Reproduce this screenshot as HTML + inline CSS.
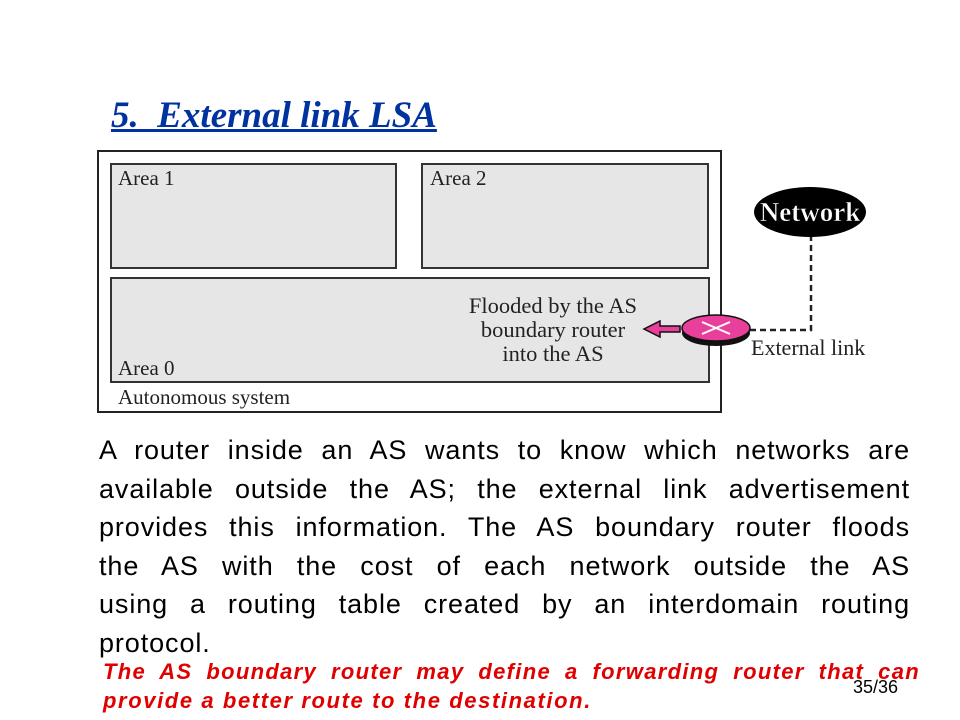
<!DOCTYPE html>
<html><head><style>
body{margin:0;width:960px;height:720px;background:#fff;position:relative;overflow:hidden;font-family:"Liberation Sans",sans-serif}
.a{position:absolute}
.box{position:absolute;border:2px solid #333;background:#e6e6e6;box-sizing:border-box}
.s{font-family:"Liberation Serif",serif;font-size:21px;color:#222;position:absolute;white-space:nowrap}
.j{text-align:justify;text-align-last:justify;height:38.5px;white-space:nowrap;letter-spacing:0.9px}
</style></head><body>
<div class="a" style="left:111px;top:94px;font-family:'Liberation Serif',serif;font-size:37px;font-weight:bold;font-style:italic;color:#0033a0;text-decoration:underline;text-decoration-thickness:3px">5.&nbsp; External link LSA</div>
<div class="a" style="left:97px;top:150px;width:625px;height:263px;border:2px solid #222;box-sizing:border-box"></div>
<div class="box" style="left:110px;top:163px;width:287px;height:106px"></div>
<div class="box" style="left:421px;top:163px;width:288px;height:106px"></div>
<div class="box" style="left:110px;top:277px;width:600px;height:106px"></div>
<div class="s" style="left:118px;top:166px">Area 1</div>
<div class="s" style="left:430px;top:166px">Area 2</div>
<div class="s" style="left:118px;top:356px">Area 0</div>
<div class="s" style="left:118px;top:385px">Autonomous system</div>
<div class="s" style="left:453px;top:294px;width:200px;text-align:center;line-height:24px;font-size:22.5px">Flooded by the AS<br>boundary router<br>into the AS</div>
<div class="s" style="left:751px;top:335px;font-size:22px">External link</div>
<svg class="a" style="left:0;top:0" width="960" height="720">
<path d="M750 330 H811 V236" fill="none" stroke="#222" stroke-width="2.5" stroke-dasharray="6,4"/>
<ellipse cx="810" cy="212" rx="56" ry="25" fill="#000"/>
<text x="810" y="221" text-anchor="middle" font-family="Liberation Serif,serif" font-size="27" font-weight="bold" fill="#fff" stroke="#000" stroke-width="0.5">Network</text>
<ellipse cx="716" cy="333" rx="34" ry="13" fill="#111"/>
<ellipse cx="716" cy="328" rx="34" ry="13" fill="#e8409a" stroke="#111" stroke-width="1.5"/>
<path d="M702 322 L730 334 M702 334 L730 322" stroke="#fff" stroke-width="2"/>
<path d="M680 326 H660 V321 L644 329 L660 337 V332 H680 Z" fill="#e8409a" stroke="#111" stroke-width="1.5"/>
</svg>
<div class="a" style="left:99px;top:431px;width:811px;font-size:27px;line-height:38.5px;color:#000">
<div class="j">A router inside an AS wants to know which networks are</div>
<div class="j">available outside the AS; the external link advertisement</div>
<div class="j">provides this information. The AS boundary router floods</div>
<div class="j">the AS with the cost of each network outside the AS</div>
<div class="j">using a routing table created by an interdomain routing</div>
<div style="height:38.5px;letter-spacing:0.9px">protocol.</div>
</div>
<div class="a" style="left:103px;top:657px;width:817px;font-size:22px;line-height:29px;font-weight:bold;font-style:italic;color:#e00000">
<div style="text-align:justify;text-align-last:justify;white-space:nowrap;letter-spacing:1.3px">The AS boundary router may define a forwarding router that can</div>
<div style="letter-spacing:1.6px;white-space:nowrap">provide a better route to the destination.</div>
</div>
<div class="a" style="left:853px;top:677px;font-size:18px;color:#000">35/36</div>
</body></html>
